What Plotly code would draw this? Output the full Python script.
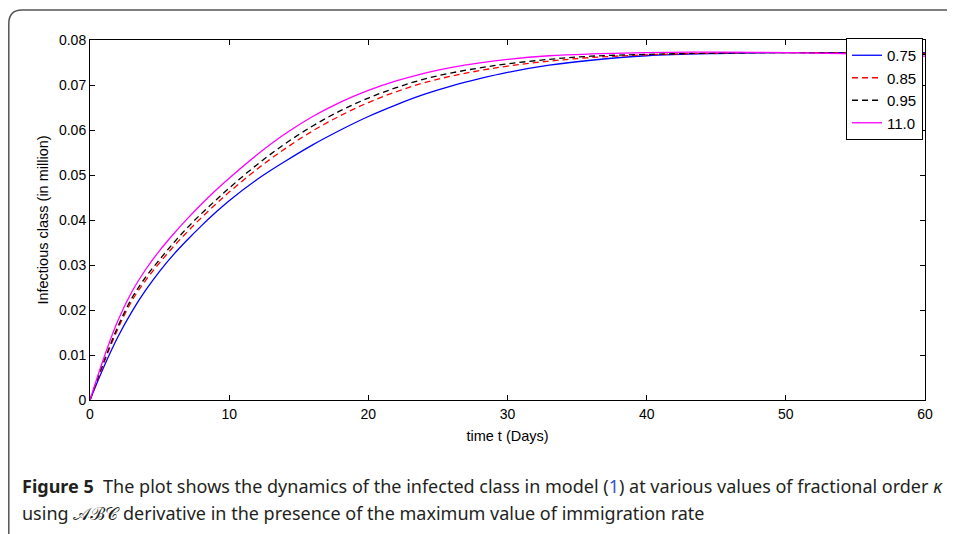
import plotly.graph_objects as go

t = [0, 1, 2, 3, 4, 5, 6, 7, 8, 9, 10, 12, 14, 16, 18, 20, 22, 24, 26, 28, 30, 33, 36, 40, 45, 50, 55, 60]

k075 = [0, 0.0074, 0.0140, 0.0196, 0.0244, 0.0286, 0.0323, 0.0356, 0.0387, 0.0416, 0.0443,
        0.0490, 0.0530, 0.0567, 0.0600, 0.0630, 0.0656, 0.0679, 0.0698, 0.0714, 0.0728,
        0.0744, 0.0755, 0.0765, 0.0770, 0.0772, 0.0772, 0.0772]
k085 = [0, 0.0083, 0.0158, 0.0220, 0.0266, 0.0305, 0.0341, 0.0374, 0.0405, 0.0434, 0.0462,
        0.0513, 0.0558, 0.0598, 0.0632, 0.0661, 0.0685, 0.0705, 0.0720, 0.0732, 0.0742,
        0.0753, 0.0761, 0.0767, 0.0771, 0.0772, 0.0771, 0.0770]
k095 = [0, 0.0086, 0.0163, 0.0226, 0.0273, 0.0312, 0.0349, 0.0383, 0.0414, 0.0443, 0.0471,
        0.0523, 0.0569, 0.0609, 0.0643, 0.0671, 0.0694, 0.0713, 0.0727, 0.0738, 0.0747,
        0.0757, 0.0764, 0.0768, 0.0771, 0.0772, 0.0770, 0.0768]
k100 = [0, 0.0094, 0.0176, 0.0240, 0.0290, 0.0332, 0.0369, 0.0403, 0.0435, 0.0465, 0.0493,
        0.0545, 0.0591, 0.0630, 0.0662, 0.0688, 0.0709, 0.0726, 0.0739, 0.0749, 0.0757,
        0.0765, 0.0769, 0.0772, 0.0773, 0.0772, 0.0769, 0.0764]

names = ["0.75", "0.85", "0.95", "11.0"]
colors = ["#0000ff", "#ff0000", "#000000", "#ff00ff"]
dashes = ["solid", "6px,4px", "6px,4px", "solid"]
series = [k075, k085, k095, k100]

xticks = [0, 10, 20, 30, 40, 50, 60]
yticks = [0, 0.01, 0.02, 0.03, 0.04, 0.05, 0.06, 0.07, 0.08]
yticklabels = ["0", "0.01", "0.02", "0.03", "0.04", "0.05", "0.06", "0.07", "0.08"]

fig = go.Figure()
for nm, c, d, s in zip(names, colors, dashes, series):
    fig.add_trace(go.Scatter(x=t, y=s, name=nm, mode="lines",
                             line=dict(color=c, dash=d, width=1.3, shape="spline", smoothing=1.0)))

OFF = 8  # page body margin
W, H = 947, 526
L, R, T, B = 82, 30, 32, 134
pw, ph = W - L - R, H - T - B

def px(xs):
    return (xs - OFF - L) / pw

def py(ys):
    return (T + ph - (ys - OFF)) / ph

axis_font = dict(family="Liberation Sans, Arial, sans-serif", size=14, color="#000")
title_font = dict(family="Liberation Sans, Arial, sans-serif", size=14.5, color="#000")

fig.update_layout(
    width=W, height=H,
    margin=dict(l=L, r=R, t=T, b=B),
    paper_bgcolor="white", plot_bgcolor="white",
    font=axis_font,
    xaxis=dict(range=[0, 60], tickvals=xticks, ticks="inside", ticklen=5, tickcolor="#000",
               showline=True, linecolor="#000", linewidth=1, mirror="ticks",
               showgrid=False, zeroline=False, tickfont=axis_font, ticklabelstandoff=1,
               title=dict(text="time t (Days)", font=title_font, standoff=10)),
    yaxis=dict(range=[0, 0.08], tickvals=yticks, ticktext=yticklabels, ticks="inside",
               ticklen=5, tickcolor="#000",
               showline=True, linecolor="#000", linewidth=1, mirror="ticks",
               showgrid=False, zeroline=False, tickfont=axis_font,
               title=dict(text="Infectious class (in million)", font=title_font, standoff=6)),
    legend=dict(x=px(923), xanchor="right", y=py(38), yanchor="top",
                bgcolor="white", bordercolor="#000", borderwidth=1,
                font=dict(family="Liberation Sans, Arial, sans-serif", size=15, color="#000"),
                itemwidth=30, tracegroupgap=0),
    showlegend=True,
)

# outer frame (top and left border with rounded corner)
fig.add_shape(type="path", xref="paper", yref="paper",
              path=f"M {px(8.8)},{py(540)} L {px(8.8)},{py(24)} Q {px(8.8)},{py(10)} {px(22)},{py(10)} L {px(960)},{py(10)}",
              line=dict(color="#555", width=1.5))

cap_font = dict(family="Noto Sans, Open Sans, sans-serif", size=18, color="#231f20")
fig.add_annotation(xref="paper", yref="paper", x=px(20), y=py(486), xanchor="left", yanchor="middle",
                   showarrow=False, font=cap_font,
                   text="<b>Figure 5</b>  The plot shows the dynamics of the infected class in model (<span style='color:#3355cc'>1</span>) at various values of fractional order <i>κ</i>")
fig.add_annotation(xref="paper", yref="paper", x=px(20), y=py(513), xanchor="left", yanchor="middle",
                   showarrow=False, font=cap_font,
                   text="using 𝒜ℬ𝒞 derivative in the presence of the maximum value of immigration rate")

fig.write_html("out.html")
